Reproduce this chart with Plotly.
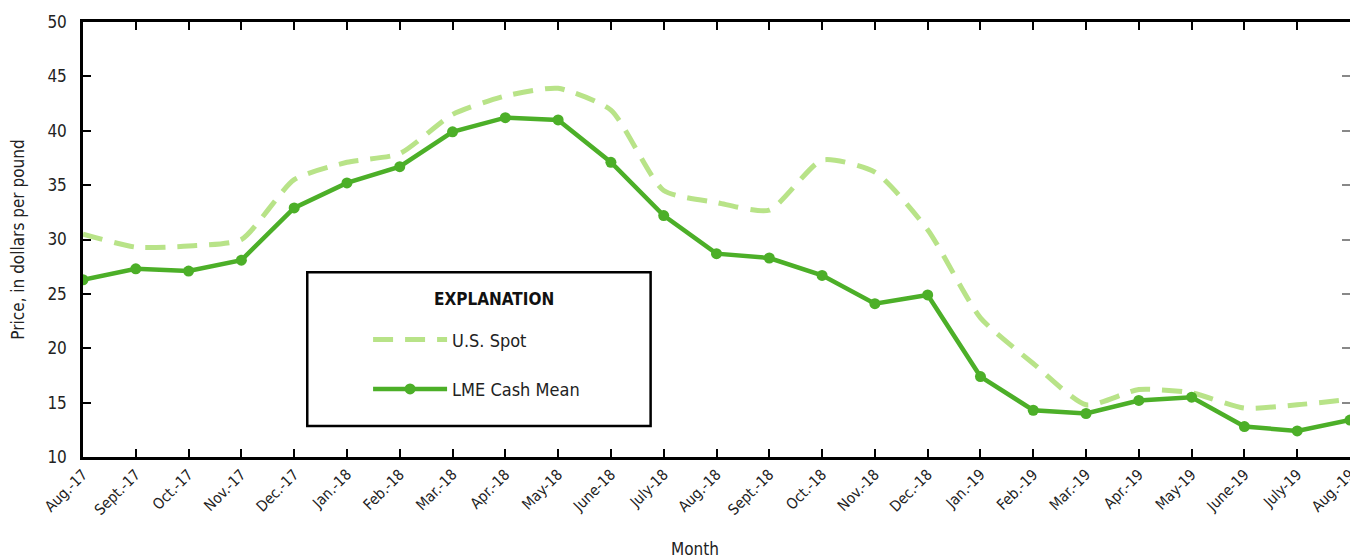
import plotly.graph_objects as go

months = ["Aug.-17", "Sept.-17", "Oct.-17", "Nov.-17", "Dec.-17", "Jan.-18", "Feb.-18",
          "Mar.-18", "Apr.-18", "May-18", "June-18", "July-18", "Aug.-18", "Sept.-18",
          "Oct.-18", "Nov.-18", "Dec.-18", "Jan.-19", "Feb.-19", "Mar.-19", "Apr.-19",
          "May-19", "June-19", "July-19", "Aug.-19"]

us_spot = [30.5, 29.3, 29.4, 30.0, 35.5, 37.1, 37.9, 41.5, 43.2, 43.9, 41.9, 34.5, 33.4,
           32.7, 37.3, 36.2, 30.9, 22.8, 18.6, 14.8, 16.2, 15.9, 14.5, 14.8, 15.3]

lme_cash = [26.3, 27.3, 27.1, 28.1, 32.9, 35.2, 36.7, 39.9, 41.2, 41.0, 37.1, 32.2, 28.7,
            28.3, 26.7, 24.1, 24.9, 17.4, 14.3, 14.0, 15.2, 15.5, 12.8, 12.4, 13.4]

y_ticks = [10, 15, 20, 25, 30, 35, 40, 45, 50]

FONT = "DejaVu Sans Condensed, Liberation Sans Narrow, Arial Narrow, sans-serif"
LIGHT = "#b8e388"
DARK = "#4caf28"

fig = go.Figure()
fig.add_trace(go.Scatter(
    x=months, y=us_spot, name="U.S. Spot", mode="lines",
    line=dict(color=LIGHT, width=5, dash="20px,12px", shape="spline", smoothing=0.6),
    legendgroup="a",
))
fig.add_trace(go.Scatter(
    x=months, y=lme_cash, name="LME Cash Mean", mode="lines+markers",
    line=dict(color=DARK, width=4.5), marker=dict(color=DARK, size=11),
    legendgroup="b",
))
# right-hand (gray) axis frame
fig.add_trace(go.Scatter(
    x=months, y=lme_cash, yaxis="y2", mode="lines", line=dict(width=0),
    showlegend=False, hoverinfo="skip", opacity=0,
))

fig.update_layout(
    width=1350, height=551,
    margin=dict(l=75, r=8, t=14, b=102, autoexpand=False),
    paper_bgcolor="white", plot_bgcolor="white",
    font=dict(family=FONT, size=16, color="#222"),
    showlegend=True,
    legend=dict(
        x=0.225, y=0.312, xanchor="left", yanchor="top",
        bgcolor="rgba(0,0,0,0)", borderwidth=0,
        font=dict(family=FONT, size=18, color="#222"),
        tracegroupgap=23, itemwidth=74,
    ),
    xaxis=dict(
        type="category", range=[0, 24], automargin=False,
        showline=True, linecolor="black", linewidth=2.5, mirror="ticks",
        ticks="inside", ticklen=8, tickwidth=2, tickcolor="black",
        tickangle=-45, tickfont=dict(family=FONT, size=15, color="#222"),
        showgrid=False, zeroline=False,
    ),
    yaxis=dict(
        range=[10, 50], tickvals=y_ticks, automargin=False,
        showline=True, linecolor="black", linewidth=2.5,
        ticks="inside", ticklen=8, tickwidth=2, tickcolor="black",
        ticklabelstandoff=10,
        tickfont=dict(family=FONT, size=17, color="#222"),
        showgrid=False, zeroline=False,
        title=dict(text="Price, in dollars per pound", font=dict(family=FONT, size=17, color="#222"), standoff=22),
    ),
    yaxis2=dict(
        range=[10, 50], tickvals=y_ticks, overlaying="y", side="right", automargin=False,
        showline=True, linecolor="#888888", linewidth=3,
        ticks="inside", ticklen=8, tickwidth=2, tickcolor="#888888",
        showticklabels=False, showgrid=False, zeroline=False,
    ),
    shapes=[dict(
        type="rect", xref="paper", yref="paper",
        x0=0.177, x1=0.448, y0=0.0713, y1=0.425,
        line=dict(color="black", width=2.5), fillcolor="rgba(0,0,0,0)",
    )],
    annotations=[
        dict(
            text="<b>EXPLANATION</b>", xref="paper", yref="paper",
            x=0.324, y=0.363, xanchor="center", yanchor="middle", showarrow=False,
            font=dict(family=FONT, size=17, color="#111"),
        ),
        dict(
            text="Month", xref="paper", yref="paper",
            x=0.4827, y=-0.212, xanchor="center", yanchor="middle", showarrow=False,
            font=dict(family=FONT, size=17, color="#222"),
        ),
    ],
)

fig.write_html("out.html")
